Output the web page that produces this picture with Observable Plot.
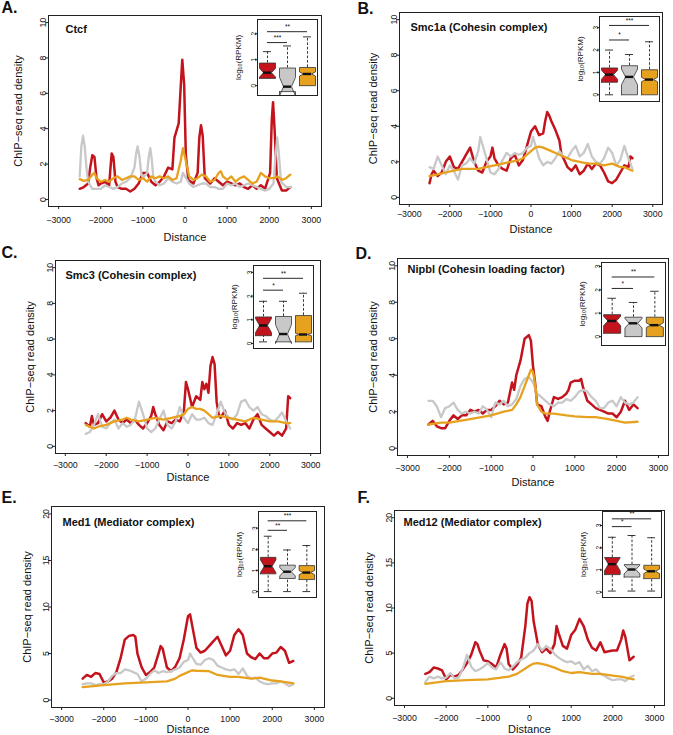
<!DOCTYPE html>
<html><head><meta charset="utf-8">
<script src="https://cdn.jsdelivr.net/npm/d3@7"></script>
<script src="https://cdn.jsdelivr.net/npm/@observablehq/plot@0.6"></script>
<style>
body{margin:0;background:#fff;}
#fig{position:relative;width:673px;height:735px;overflow:hidden;background:#fff;}
#fig svg{position:absolute;overflow:visible;}
</style></head><body><div id="fig"></div><script>
// ---------- tick labels ----------
const xTicks = [-3000,-2000,-1000,0,1000,2000,3000];
const yTicks10 = [0,2,4,6,8,10];
const yTicks20 = [0,5,10,15,20];
const insetTicks2 = [0,1,2];
const insetTicks3 = [0,1,2,3];
const groupColors = ["#c3131d","#c8c8c8","#e6a11f"];

// ---------- A. Ctcf ----------
const ctcfRed = [[-2500,0.6],[-2400,0.7],[-2300,0.9],[-2250,1.8],[-2200,2.5],[-2150,2.4],[-2100,1.2],[-2050,0.8],[-2000,0.9],[-1900,1.0],[-1800,0.8],[-1775,1.6],[-1740,2.6],[-1700,2.4],[-1650,1.0],[-1600,0.7],[-1500,0.6],[-1400,0.6],[-1300,0.45],[-1200,0.6],[-1100,0.9],[-1000,1.5],[-900,1.5],[-800,1.0],[-700,0.8],[-600,1.0],[-500,1.3],[-400,1.8],[-300,1.7],[-250,3.5],[-150,4.3],[-110,6.0],[-65,7.9],[-20,6.5],[20,2.5],[80,1.1],[200,0.9],[300,1.5],[340,3.5],[380,4.2],[420,3.6],[470,1.2],[600,0.9],[700,1.2],[800,1.0],[900,0.8],[1000,1.0],[1100,0.9],[1200,0.8],[1300,0.9],[1400,0.7],[1500,0.6],[1600,0.8],[1700,0.6],[1800,0.8],[1900,0.6],[2020,1.5],[2060,4.5],[2090,5.5],[2130,3.8],[2180,1.2],[2300,0.5],[2400,0.5],[2500,0.7]];
const ctcfGray = [[-2500,1.3],[-2460,3.0],[-2420,3.6],[-2380,3.0],[-2340,1.8],[-2300,1.0],[-2200,0.6],[-2100,0.6],[-2000,0.6],[-1900,0.8],[-1800,0.7],[-1700,0.6],[-1600,0.7],[-1500,0.9],[-1400,1.0],[-1300,1.2],[-1200,1.8],[-1160,2.6],[-1125,3.0],[-1080,2.4],[-1040,1.5],[-1000,1.2],[-900,1.5],[-860,2.4],[-825,2.9],[-790,2.3],[-750,1.2],[-700,1.0],[-600,0.8],[-500,0.9],[-400,1.2],[-300,1.0],[-200,0.9],[-100,1.0],[-50,1.5],[0,1.3],[100,0.9],[200,0.7],[300,0.8],[400,0.9],[500,0.9],[600,0.7],[700,0.7],[800,0.6],[900,0.6],[1000,0.9],[1100,0.8],[1200,0.9],[1300,0.7],[1400,0.8],[1500,0.9],[1600,0.8],[1700,0.7],[1800,0.6],[1900,0.5],[2000,0.6],[2100,0.9],[2150,2.5],[2190,3.5],[2230,2.5],[2280,1.0],[2400,0.7],[2500,0.7]];
const ctcfOrange = [[-2500,1.15],[-2400,1.05],[-2300,1.1],[-2200,1.4],[-2150,1.5],[-2100,1.2],[-2000,1.0],[-1900,1.1],[-1800,1.0],[-1700,1.2],[-1600,1.3],[-1500,1.1],[-1400,1.2],[-1300,1.3],[-1200,1.3],[-1100,1.1],[-1000,1.2],[-900,1.0],[-800,1.3],[-700,1.2],[-600,1.3],[-500,1.2],[-400,1.3],[-300,1.1],[-200,1.2],[-100,2.2],[-50,2.9],[0,2.4],[100,1.3],[200,1.1],[300,1.2],[400,1.4],[500,1.3],[600,1.0],[700,1.1],[800,1.5],[850,1.6],[900,1.3],[1000,1.1],[1100,1.3],[1200,1.0],[1300,1.2],[1400,1.3],[1500,1.1],[1600,0.9],[1700,1.0],[1800,1.5],[1900,1.3],[2000,1.2],[2100,1.2],[2200,1.3],[2300,1.1],[2400,1.2],[2500,1.4]];
// box: [lower whisker, q1, median, q3, upper whisker, notch half-height]
const ctcfBox = [[0.28,0.28,0.5,0.87,1.31,0.17],[-0.23,-0.23,-0.04,0.68,1.53,0.36],[0.0,0.0,0.45,0.7,1.88,0.08]];
// significance: [to group, level, stars]
const ctcfSig = [[2,1.66,"***"],[3,2.08,"**"]];

// ---------- B. Smc1a ----------
const smc1aRed = [[-2500,0.8],[-2450,1.3],[-2400,1.5],[-2300,1.2],[-2200,1.4],[-2100,2.0],[-2000,2.3],[-1900,1.7],[-1800,1.6],[-1700,2.0],[-1600,2.4],[-1500,2.8],[-1400,2.0],[-1300,1.5],[-1200,1.4],[-1100,2.0],[-1000,2.3],[-950,2.8],[-900,2.2],[-800,1.8],[-700,1.6],[-600,1.5],[-500,2.2],[-400,2.4],[-300,1.8],[-200,2.1],[-100,2.9],[0,3.7],[100,4.0],[200,3.5],[300,3.6],[350,4.3],[400,4.8],[450,4.6],[500,4.3],[600,3.8],[700,3.2],[750,2.4],[800,2.2],[900,1.7],[1000,1.5],[1100,1.8],[1200,1.3],[1300,1.5],[1400,1.9],[1500,1.6],[1600,1.9],[1700,1.8],[1800,1.4],[1900,0.9],[2000,0.8],[2100,1.0],[2200,1.4],[2300,1.8],[2400,1.7],[2450,2.3],[2500,2.2]];
const smc1aGray = [[-2500,1.7],[-2400,1.6],[-2300,2.3],[-2200,1.8],[-2100,1.3],[-2000,1.8],[-1900,1.5],[-1800,1.0],[-1700,1.8],[-1600,1.9],[-1500,2.2],[-1400,1.9],[-1300,2.6],[-1250,3.4],[-1200,3.0],[-1100,2.2],[-1000,1.4],[-900,1.3],[-800,1.6],[-700,2.1],[-600,2.5],[-500,2.3],[-400,2.5],[-300,2.4],[-200,2.5],[-100,2.8],[0,2.9],[50,3.4],[100,3.0],[200,2.2],[300,1.8],[400,2.0],[500,1.9],[600,2.2],[700,2.6],[800,2.3],[900,2.2],[1000,2.6],[1100,2.9],[1200,2.3],[1300,2.5],[1400,3.0],[1500,2.3],[1600,2.0],[1700,1.9],[1800,2.2],[1900,2.8],[2000,2.5],[2100,1.8],[2200,2.1],[2300,2.9],[2400,2.2],[2500,1.6]];
const smc1aOrange = [[-2500,1.2],[-2300,1.3],[-2100,1.4],[-1900,1.5],[-1700,1.6],[-1500,1.6],[-1300,1.6],[-1100,1.7],[-900,1.8],[-700,1.9],[-500,2.0],[-300,2.1],[-200,2.2],[-100,2.4],[0,2.6],[100,2.8],[200,2.85],[300,2.8],[400,2.7],[500,2.6],[600,2.5],[700,2.4],[800,2.3],[900,2.2],[1000,2.1],[1200,2.0],[1400,1.9],[1600,1.9],[1800,1.8],[2000,1.9],[2100,1.8],[2200,1.7],[2300,1.7],[2400,1.6],[2500,1.5]];
const smc1aBox = [[0,0.56,0.9,1.2,2.0,0.2],[0,0,0.8,1.3,1.8,0.35],[0,0,0.68,1.12,2.37,0.1]];
const smc1aSig = [[2,2.45,"*"],[3,3.1,"***"]];

// ---------- C. Smc3 ----------
const smc3Red = [[-2500,1.3],[-2400,1.1],[-2350,1.7],[-2300,1.2],[-2200,1.3],[-2100,1.8],[-2000,1.4],[-1900,1.6],[-1800,2.0],[-1700,1.5],[-1600,1.3],[-1500,1.5],[-1400,1.3],[-1300,1.5],[-1200,1.2],[-1100,1.0],[-1000,1.3],[-900,1.7],[-850,2.2],[-800,1.8],[-700,1.2],[-600,0.9],[-500,1.4],[-400,1.3],[-300,1.5],[-200,1.4],[-100,2.0],[-50,3.6],[0,3.2],[100,2.2],[200,2.8],[300,2.6],[350,3.6],[400,3.2],[450,3.5],[500,3.0],[550,4.5],[600,5.0],[650,4.6],[700,2.5],[750,1.8],[800,1.6],[900,2.0],[1000,1.2],[1100,1.0],[1200,1.3],[1300,1.2],[1400,1.3],[1500,1.0],[1600,1.5],[1700,1.8],[1800,1.2],[1900,1.0],[2000,0.8],[2100,0.6],[2200,0.8],[2300,0.6],[2400,1.0],[2450,2.8],[2500,2.7]];
const smc3Gray = [[-2500,0.7],[-2400,0.8],[-2300,1.2],[-2200,1.8],[-2100,1.1],[-2000,1.0],[-1900,1.3],[-1800,1.5],[-1700,1.0],[-1600,1.3],[-1500,1.1],[-1400,1.2],[-1300,1.5],[-1200,2.5],[-1100,1.8],[-1000,1.0],[-900,0.8],[-800,1.0],[-700,1.5],[-600,2.0],[-500,1.2],[-400,1.0],[-300,1.4],[-200,2.2],[-100,1.6],[0,1.3],[100,1.8],[200,1.5],[300,1.5],[400,1.6],[500,1.3],[600,1.2],[700,1.8],[800,2.5],[900,1.9],[1000,1.6],[1100,1.5],[1200,1.8],[1300,2.5],[1400,2.6],[1500,2.2],[1600,2.0],[1700,2.2],[1800,1.8],[1900,1.7],[2000,1.5],[2100,1.4],[2200,1.6],[2300,1.9],[2400,1.4],[2500,1.0]];
const smc3Orange = [[-2500,1.2],[-2400,1.1],[-2300,1.0],[-2200,1.1],[-2000,1.2],[-1800,1.4],[-1600,1.5],[-1500,1.6],[-1400,1.5],[-1200,1.4],[-1000,1.5],[-800,1.6],[-600,1.5],[-400,1.6],[-200,1.7],[-100,1.8],[0,2.1],[100,2.2],[200,2.1],[300,2.1],[400,2.0],[500,1.8],[600,1.6],[800,1.7],[1000,1.6],[1200,1.5],[1400,1.4],[1600,1.6],[1800,1.5],[2000,1.4],[2200,1.4],[2400,1.3],[2500,1.3]];
const smc3Box = [[0.07,0.33,0.76,1.12,1.78,0.3],[0.07,0.07,0.4,1.14,1.78,0.4],[0.07,0.07,0.38,1.18,2.12,0.05]];
const smc3Sig = [[2,2.25,"*"],[3,2.75,"**"]];

// ---------- D. Nipbl ----------
const nipblRed = [[-2500,1.3],[-2400,1.5],[-2300,1.2],[-2200,1.1],[-2100,1.1],[-2000,1.5],[-1900,1.8],[-1800,1.6],[-1700,1.8],[-1600,1.8],[-1500,2.1],[-1400,2.0],[-1300,2.1],[-1200,1.9],[-1100,2.1],[-1000,2.1],[-900,2.3],[-800,2.6],[-700,2.4],[-600,2.5],[-500,3.6],[-450,3.2],[-400,4.0],[-300,4.8],[-200,6.0],[-100,6.2],[-50,5.9],[0,4.5],[50,3.6],[100,2.4],[200,2.3],[300,1.7],[350,1.5],[400,2.0],[500,2.8],[600,2.7],[700,2.8],[800,3.0],[850,3.2],[900,3.6],[1000,3.7],[1100,3.7],[1150,3.8],[1200,3.3],[1300,2.6],[1400,2.4],[1500,2.2],[1600,2.1],[1700,2.0],[1800,1.9],[1900,1.9],[2000,1.7],[2100,2.0],[2200,2.6],[2300,2.1],[2400,2.4],[2500,2.2]];
const nipblGray = [[-2500,2.6],[-2400,2.6],[-2300,2.3],[-2200,1.7],[-2100,2.2],[-2000,2.3],[-1900,2.5],[-1800,2.1],[-1700,1.9],[-1600,2.0],[-1500,1.9],[-1400,2.0],[-1300,1.9],[-1200,2.3],[-1100,2.1],[-1000,1.7],[-900,2.5],[-800,2.4],[-700,2.6],[-600,2.3],[-500,2.4],[-400,2.7],[-300,3.4],[-200,3.8],[-100,3.9],[0,3.6],[100,3.0],[200,2.8],[300,2.6],[400,2.4],[500,2.3],[600,2.5],[700,2.5],[800,2.7],[900,2.6],[1000,2.8],[1100,3.1],[1200,3.2],[1300,3.1],[1400,2.8],[1500,2.6],[1600,2.2],[1700,2.2],[1800,2.5],[1900,2.6],[2000,2.3],[2100,2.8],[2200,2.5],[2300,2.4],[2400,2.5],[2500,2.8]];
const nipblOrange = [[-2500,1.3],[-2200,1.4],[-2000,1.4],[-1500,1.6],[-1000,1.8],[-700,2.0],[-500,2.1],[-400,2.4],[-300,2.8],[-200,3.4],[-100,4.0],[-50,4.3],[0,4.2],[50,3.5],[100,2.4],[200,2.0],[300,1.9],[500,1.9],[800,1.8],[1000,1.75],[1300,1.7],[1500,1.7],[1800,1.6],[2000,1.5],[2200,1.4],[2500,1.45]];
const nipblBox = [[0.14,0.14,0.67,0.94,1.64,0.2],[0,0,0.57,0.83,1.46,0.2],[0,0,0.49,0.83,1.94,0.1]];
const nipblSig = [[2,2.06,"*"],[3,2.55,"**"]];

// ---------- E. Med1 ----------
const med1Red = [[-2500,2.3],[-2400,2.7],[-2300,2.5],[-2200,2.9],[-2100,2.8],[-2000,1.9],[-1900,2.0],[-1800,2.3],[-1700,3.0],[-1600,4.5],[-1500,6.5],[-1400,6.9],[-1300,7.0],[-1250,6.8],[-1200,5.0],[-1100,3.5],[-1000,2.7],[-900,3.0],[-800,3.5],[-700,5.0],[-650,5.8],[-600,5.5],[-500,3.5],[-400,3.1],[-300,3.6],[-200,4.5],[-100,6.5],[0,9.0],[50,9.2],[100,8.0],[200,5.6],[300,5.1],[400,5.3],[500,5.8],[600,6.3],[700,6.8],[800,5.8],[900,4.8],[1000,5.3],[1100,7.0],[1200,7.6],[1300,7.0],[1400,5.0],[1500,4.6],[1600,4.4],[1700,5.0],[1800,4.5],[1900,4.5],[2000,5.0],[2100,5.1],[2200,5.7],[2300,5.3],[2400,4.0],[2500,4.2]];
const med1Gray = [[-2500,1.7],[-2400,1.8],[-2300,1.8],[-2200,1.6],[-2100,1.7],[-2000,1.7],[-1900,2.0],[-1800,2.6],[-1700,2.9],[-1600,2.9],[-1500,3.3],[-1400,3.2],[-1300,3.0],[-1200,2.8],[-1100,2.0],[-1000,2.3],[-900,2.8],[-800,3.2],[-700,2.9],[-600,3.1],[-500,3.0],[-400,3.1],[-300,3.3],[-200,3.5],[-100,4.1],[0,4.3],[50,5.0],[100,4.6],[200,3.9],[300,3.8],[400,4.3],[500,4.5],[600,4.3],[700,3.7],[800,3.5],[900,3.3],[1000,3.2],[1100,3.3],[1200,2.8],[1300,3.4],[1400,2.6],[1500,2.3],[1600,2.4],[1700,2.0],[1800,1.8],[1900,1.7],[2000,1.8],[2100,1.8],[2200,2.0],[2300,1.8],[2400,1.5],[2500,1.7]];
const med1Orange = [[-2500,1.4],[-2000,1.6],[-1500,1.8],[-1000,1.9],[-500,2.0],[-300,2.3],[-200,2.6],[0,3.0],[100,3.2],[200,3.15],[500,3.1],[700,2.7],[1000,2.5],[1200,2.5],[1500,2.3],[1700,2.4],[2000,2.1],[2200,2.0],[2500,1.8]];
const med1Box = [[0,0.84,1.2,1.62,2.62,0.3],[0,0.62,0.94,1.25,1.97,0.2],[0,0.57,0.9,1.23,2.18,0.1]];
const med1Sig = [[2,2.9,"**"],[3,3.35,"***"]];

// ---------- F. Med12 ----------
const med12Red = [[-2500,2.7],[-2400,2.9],[-2300,3.4],[-2200,3.3],[-2100,3.1],[-2000,2.1],[-1900,2.6],[-1800,2.4],[-1700,2.6],[-1600,3.2],[-1500,3.9],[-1400,4.8],[-1300,6.2],[-1250,6.0],[-1200,5.3],[-1100,4.2],[-1000,4.1],[-900,3.8],[-800,3.4],[-700,4.8],[-600,6.0],[-550,5.5],[-500,3.8],[-400,3.2],[-300,3.7],[-200,4.5],[-100,8.0],[-50,10.5],[0,11.2],[50,10.8],[100,8.5],[200,6.0],[300,5.1],[400,5.5],[500,5.0],[600,6.0],[650,8.0],[700,7.2],[800,5.8],[900,5.5],[1000,7.0],[1100,7.6],[1200,8.8],[1300,8.0],[1400,6.5],[1500,5.6],[1600,5.3],[1700,6.2],[1800,5.1],[1900,5.2],[2000,5.3],[2100,5.3],[2200,6.5],[2250,7.5],[2300,6.8],[2400,4.2],[2500,4.6]];
const med12Gray = [[-2500,1.8],[-2400,2.4],[-2300,2.2],[-2200,2.4],[-2100,2.2],[-2000,2.3],[-1900,2.8],[-1800,2.2],[-1700,2.3],[-1600,3.3],[-1500,4.8],[-1400,3.5],[-1300,3.0],[-1200,3.2],[-1100,3.5],[-1000,3.9],[-900,3.4],[-800,3.2],[-700,4.0],[-600,3.3],[-500,3.1],[-400,3.5],[-300,4.0],[-200,4.3],[-100,4.5],[0,5.0],[100,5.3],[200,6.0],[300,5.3],[400,5.8],[500,5.5],[600,4.9],[700,4.5],[800,4.2],[900,4.0],[1000,4.1],[1100,3.8],[1200,4.0],[1300,3.2],[1400,3.6],[1500,3.0],[1600,3.2],[1700,2.7],[1800,2.5],[1900,2.2],[2000,2.0],[2100,2.1],[2200,2.1],[2300,1.9],[2400,2.3],[2500,2.5]];
const med12Orange = [[-2500,1.6],[-2000,1.9],[-1500,2.0],[-1000,2.1],[-500,2.4],[-300,2.7],[-100,3.3],[0,3.6],[100,3.85],[200,3.9],[400,3.7],[600,3.4],[800,3.0],[1000,2.8],[1200,2.9],[1500,2.7],[1700,2.7],[2000,2.5],[2200,2.4],[2500,2.1]];
const med12Box = [[0.05,0.79,1.26,1.56,2.47,0.3],[0.05,0.68,1.02,1.24,2.55,0.2],[0.05,0.61,0.94,1.21,2.45,0.1]];
const med12Sig = [[2,2.95,"*"],[3,3.3,"**"]];

// ---------- panel definitions (layout only) ----------
const panels = [
  {letter:"A.", name:"Ctcf", series:[ctcfRed,ctcfGray,ctcfOrange], box:ctcfBox, sig:ctcfSig, yTicks:yTicks10, yDom:[-0.4,10.4], iTicks:insetTicks2, iDom:[-0.38,2.55],
   L:{x:0,y:0,w:336,h:245,frame:[48,15,321,206],letter:[1,7],name:[17,14],xpad:7,xt:31,yt:30,inset:[257,19,317,95]}},
  {letter:"B.", name:"Smc1a (Cohesin complex)", series:[smc1aRed,smc1aGray,smc1aOrange], box:smc1aBox, sig:smc1aSig, yTicks:yTicks10, yDom:[-0.4,10.4], iTicks:insetTicks3, iDom:[-0.3,3.5],
   L:{x:336,y:0,w:337,h:245,frame:[399,12,662,204],letter:[357,8],name:[11,15],xpad:3,xt:25,yt:26,inset:[599,16,659,101]}},
  {letter:"C.", name:"Smc3 (Cohesin complex)", series:[smc3Red,smc3Gray,smc3Orange], box:smc3Box, sig:smc3Sig, yTicks:yTicks10, yDom:[-0.4,10.4], iTicks:insetTicks3, iDom:[-0.21,3.29],
   L:{x:0,y:245,w:336,h:245,frame:[55,260,320,453],letter:[1,252],name:[10,15],xpad:5,xt:24,yt:25,inset:[253,265,313,348]}},
  {letter:"D.", name:"Nipbl (Cohesin loading factor)", series:[nipblRed,nipblGray,nipblOrange], box:nipblBox, sig:nipblSig, yTicks:yTicks10, yDom:[-0.4,10.4], iTicks:insetTicks3, iDom:[-0.38,3.17],
   L:{x:336,y:245,w:337,h:245,frame:[397,258,668,455],letter:[355,253],name:[10,11],xpad:6,xt:27,yt:24,inset:[601,262,665,345]}},
  {letter:"E.", name:"Med1 (Mediator complex)", series:[med1Red,med1Gray,med1Orange], box:med1Box, sig:med1Sig, yTicks:yTicks20, yDom:[-0.8,20.8], iTicks:insetTicks3, iDom:[-0.28,3.79],
   L:{x:0,y:490,w:336,h:245,frame:[51,506,324,707],letter:[1,497],name:[11,16],xpad:5,xt:21.5,yt:24,inset:[258,511,316,597]}},
  {letter:"F.", name:"Med12 (Mediator complex)", series:[med12Red,med12Gray,med12Orange], box:med12Box, sig:med12Sig, yTicks:yTicks20, yDom:[-0.8,20.8], iTicks:insetTicks3, iDom:[-0.24,3.63],
   L:{x:336,y:490,w:337,h:245,frame:[394,510,664,705],letter:[357,497],name:[9,12],xpad:6,xt:23.5,yt:25,inset:[602,511,661,597]}}
];

const FONT = "'Liberation Sans', Arial, Helvetica, sans-serif";
const fmt = d => (d < 0 ? "\u2212" : "") + Math.abs(d);
const fig = document.getElementById("fig");
function put(svg, left, top) { svg.style.left = left + "px"; svg.style.top = top + "px"; fig.appendChild(svg); }

for (const p of panels) {
  const L = p.L, [fl, ft, fr, fb] = L.frame;
  const lineMarks = p.series.map((s, i) =>
    Plot.line(s, {x: d => d[0], y: d => d[1], stroke: groupColors[i], strokeWidth: i === 0 ? 2.5 : 2.3, strokeLinejoin: "round"}));
  const main = Plot.plot({
    width: L.w, height: L.h,
    marginLeft: fl - L.x, marginTop: ft - L.y, marginRight: L.x + L.w - fr, marginBottom: L.y + L.h - fb,
    style: {fontFamily: FONT, background: "transparent", color: "#111"},
    x: {domain: [-3240, 3240]},
    y: {domain: p.yDom},
    marks: [
      ...lineMarks,
      Plot.frame({stroke: "#222", strokeWidth: 1}),
      Plot.axisX({ticks: xTicks, tickSize: 3, tickPadding: L.xpad, tickFormat: fmt, fontSize: 8.8, label: null, stroke: "#222"}),
      Plot.axisY({ticks: p.yTicks, tickSize: 3, tickPadding: 2, tickRotate: -90, lineAnchor: "middle", tickFormat: fmt, fontSize: 8.8, label: null, stroke: "#222"}),
      Plot.text([p.name], {text: d => d, frameAnchor: "top-left", dx: L.name[0], dy: L.name[1], textAnchor: "start", lineAnchor: "middle", fontWeight: "bold", fontSize: 11}),
      Plot.text(["Distance"], {text: d => d, frameAnchor: "bottom", dy: L.xt, lineAnchor: "middle", fontSize: 11}),
      Plot.text(["ChIP\u2212seq read density"], {text: d => d, frameAnchor: "left", dx: -L.yt, rotate: -90, textAnchor: "middle", lineAnchor: "middle", fontSize: 11}),
      Plot.text([p.letter], {text: d => d, frameAnchor: "top-left", dx: L.letter[0] - fl, dy: L.letter[1] - ft, textAnchor: "start", lineAnchor: "middle", fontWeight: "bold", fontSize: 16})
    ]
  });
  put(main, L.x, L.y);

  // ---- inset boxplot ----
  const [il, it, ir, ib] = L.inset;
  const ml = 26;
  const boxes = p.box.map((v, i) => ({pos: i + 1, lo: v[0], q1: v[1], med: v[2], q3: v[3], hi: v[4], n: v[5], color: groupColors[i]}));
  const w = 0.4;
  const polys = boxes.map(d => {
    const c = d.pos;
    return [[c-w,d.q1],[c+w,d.q1],[c+w,d.med-d.n],[c+w/2,d.med],[c+w,d.med+d.n],[c+w,d.q3],[c-w,d.q3],[c-w,d.med+d.n],[c-w/2,d.med],[c-w,d.med-d.n],[c-w,d.q1]];
  });
  const sig = p.sig.map(([to, y, s]) => ({to, y, s}));
  const lower = boxes.filter(d => d.lo < d.q1);
  const inset = Plot.plot({
    width: ir - il + ml + 1, height: ib - it + 2,
    marginLeft: ml, marginTop: 1, marginRight: 1, marginBottom: 1,
    style: {fontFamily: FONT, background: "transparent", color: "#111"},
    x: {domain: [0.5, 3.5], axis: null},
    y: {domain: p.iDom, axis: null},
    marks: [
      Plot.frame({fill: "white", stroke: "none"}),
      Plot.ruleX(boxes, {x: "pos", y1: "q3", y2: "hi", stroke: "#222", strokeWidth: 0.9, strokeDasharray: "2.6,1.8"}),
      Plot.ruleX(lower, {x: "pos", y1: "lo", y2: "q1", stroke: "#222", strokeWidth: 0.9, strokeDasharray: "2.6,1.8"}),
      Plot.ruleY(boxes, {y: "hi", x1: d => d.pos - 0.2, x2: d => d.pos + 0.2, stroke: "#222", strokeWidth: 0.9}),
      Plot.ruleY(lower, {y: "lo", x1: d => d.pos - 0.2, x2: d => d.pos + 0.2, stroke: "#222", strokeWidth: 0.9}),
      ...polys.map((poly, i) => Plot.line(poly, {x: d => d[0], y: d => d[1], fill: groupColors[i], stroke: "#333", strokeWidth: 0.8})),
      Plot.ruleY(boxes, {y: "med", x1: d => d.pos - w/2, x2: d => d.pos + w/2, stroke: "#111", strokeWidth: 2.4}),
      Plot.ruleY(sig, {y: "y", x1: d => 1, x2: "to", stroke: "#111", strokeWidth: 0.9}),
      Plot.text(sig, {x: d => (1 + d.to) / 2, y: "y", text: "s", dy: -2.5, fontSize: 6.5, lineAnchor: "bottom"}),
      Plot.frame({stroke: "#222", strokeWidth: 1}),
      Plot.axisY({ticks: p.iTicks, tickSize: 2, tickPadding: 2, tickRotate: -90, lineAnchor: "middle", tickFormat: fmt, fontSize: 6.5, label: null, stroke: "#222"}),
      Plot.text(["log\u2081\u2080(RPKM)"], {text: d => d, frameAnchor: "left", dx: -19, rotate: -90, textAnchor: "middle", lineAnchor: "middle", fontSize: 8})
    ]
  });
  put(inset, il - ml, it - 1);
}
</script></body></html>
